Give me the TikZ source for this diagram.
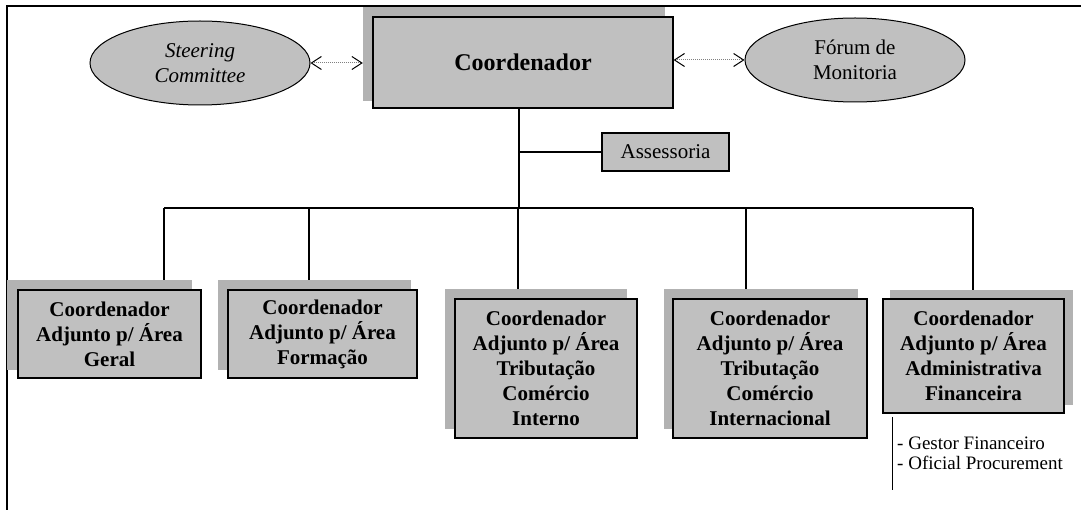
\documentclass[tikz,border=0pt]{standalone}
\usepackage{fontspec}
\setmainfont{Liberation Serif}
\usetikzlibrary{shapes.geometric,arrows.meta,calc}

\definecolor{boxfill}{HTML}{C0C0C0}
\definecolor{shadefill}{HTML}{B2B2B2}
\definecolor{linkgray}{HTML}{808080}

\tikzset{
  unitbox/.style={draw=black, line width=1.2pt, fill=boxfill, inner sep=0pt,
    align=center, font=\fontsize{21}{25}\selectfont\bfseries},
  shadebox/.style={fill=shadefill, inner sep=0pt},
  forum/.style={ellipse, draw=black, line width=1pt, fill=boxfill, inner sep=0pt,
    minimum width=220pt, minimum height=84pt, align=center,
    font=\fontsize{21}{25}\selectfont},
  link/.style={draw=linkgray, line width=1pt, densely dotted,
    {Straight Barb[length=10pt,width=13pt,line width=1pt,color=black]}-{Straight Barb[length=10pt,width=13pt,line width=1pt,color=black]}},
  branch/.style={draw=black, line width=1.2pt},
}

\begin{document}
\begin{tikzpicture}[x=1pt, y=-1pt]
\useasboundingbox (0,0) rectangle (1081,510);

% outer frame (open to the right and bottom)
\draw[line width=2pt, line cap=rect] (7,512) -- (7,6) -- (1083,6);

% top level: coordinator with its shadow
\node[shadebox, minimum width=302pt, minimum height=94pt] (coordsh) at (514,54) {};
\node[unitbox, minimum width=300pt, minimum height=91pt,
      font=\fontsize{24}{28}\selectfont\bfseries] (coord) at (523,62.5) {Coordenador};

% committees beside the coordinator
\node[forum, font=\fontsize{21}{25}\selectfont\itshape] (steer) at (200,63) {Steering\\Committee};
\node[forum] (forum) at (855,60) {Fórum de\\Monitoria};

\draw[link] (steer.east) -- (steer.east -| coordsh.west);
\draw[link] (coord.east |- forum.west) -- (forum.west);

% advisory unit
\node[unitbox, minimum width=127pt, minimum height=38pt,
      font=\fontsize{21}{25}\selectfont] (assess) at (665.5,152) {Assessoria};

% deputy coordinators: shadows first, then the boxes
\node[shadebox, minimum width=185pt, minimum height=90pt] (b1sh) at (99.5,325) {};
\node[unitbox, minimum width=183pt, minimum height=88pt] (b1) at (109.5,334)
  {Coordenador\\Adjunto p/ Área\\Geral};

\node[shadebox, minimum width=193pt, minimum height=90pt] (b2sh) at (314.5,325) {};
\node[unitbox, minimum width=189pt, minimum height=88pt] (b2) at (322.5,334)
  {Coordenador\\Adjunto p/ Área\\Formação};

\node[shadebox, minimum width=182pt, minimum height=140pt] (b3sh) at (536,359) {};
\node[unitbox, minimum width=182pt, minimum height=139pt] (b3) at (546,368.5)
  {Coordenador\\Adjunto p/ Área\\Tributação\\Comércio\\Interno};

\node[shadebox, minimum width=194pt, minimum height=140pt] (b4sh) at (761,359) {};
\node[unitbox, minimum width=194pt, minimum height=139pt] (b4) at (770,368.5)
  {Coordenador\\Adjunto p/ Área\\Tributação\\Comércio\\Internacional};

\node[shadebox, minimum width=183pt, minimum height=115pt] (b5sh) at (981.5,347.5) {};
\node[unitbox, minimum width=181pt, minimum height=114pt] (b5) at (973.5,356)
  {Coordenador\\Adjunto p/ Área\\Administrativa\\Financeira};

% staff under the administrative area
\node[align=left, anchor=west, inner xsep=5pt, inner ysep=0pt, minimum height=73pt,
      font=\fontsize{19}{20}\selectfont] (staff) at (892,453.5)
  {- Gestor Financeiro\\- Oficial Procurement};
\draw[line width=1pt] (staff.north west) -- (staff.south west);

% reporting lines
\coordinate (trunk) at (519,208);
\coordinate (d1) at (164,208);
\coordinate (d2) at (309,208);
\coordinate (d3) at (518,208);
\coordinate (d4) at (746,208);
\coordinate (d5) at (973,208);

\draw[branch] (coord.south -| trunk) -- (trunk);
\draw[branch] (assess.west -| trunk) -- (assess.west);
\draw[branch] (d1) -- (d5);
\draw[branch] (d1) -- (d1 |- b1sh.north);
\draw[branch] (d2) -- (d2 |- b2sh.north);
\draw[branch] (d3) -- (d3 |- b3sh.north);
\draw[branch] (d4) -- (d4 |- b4sh.north);
\draw[branch] (d5) -- (d5 |- b5sh.north);
\end{tikzpicture}
\end{document}
